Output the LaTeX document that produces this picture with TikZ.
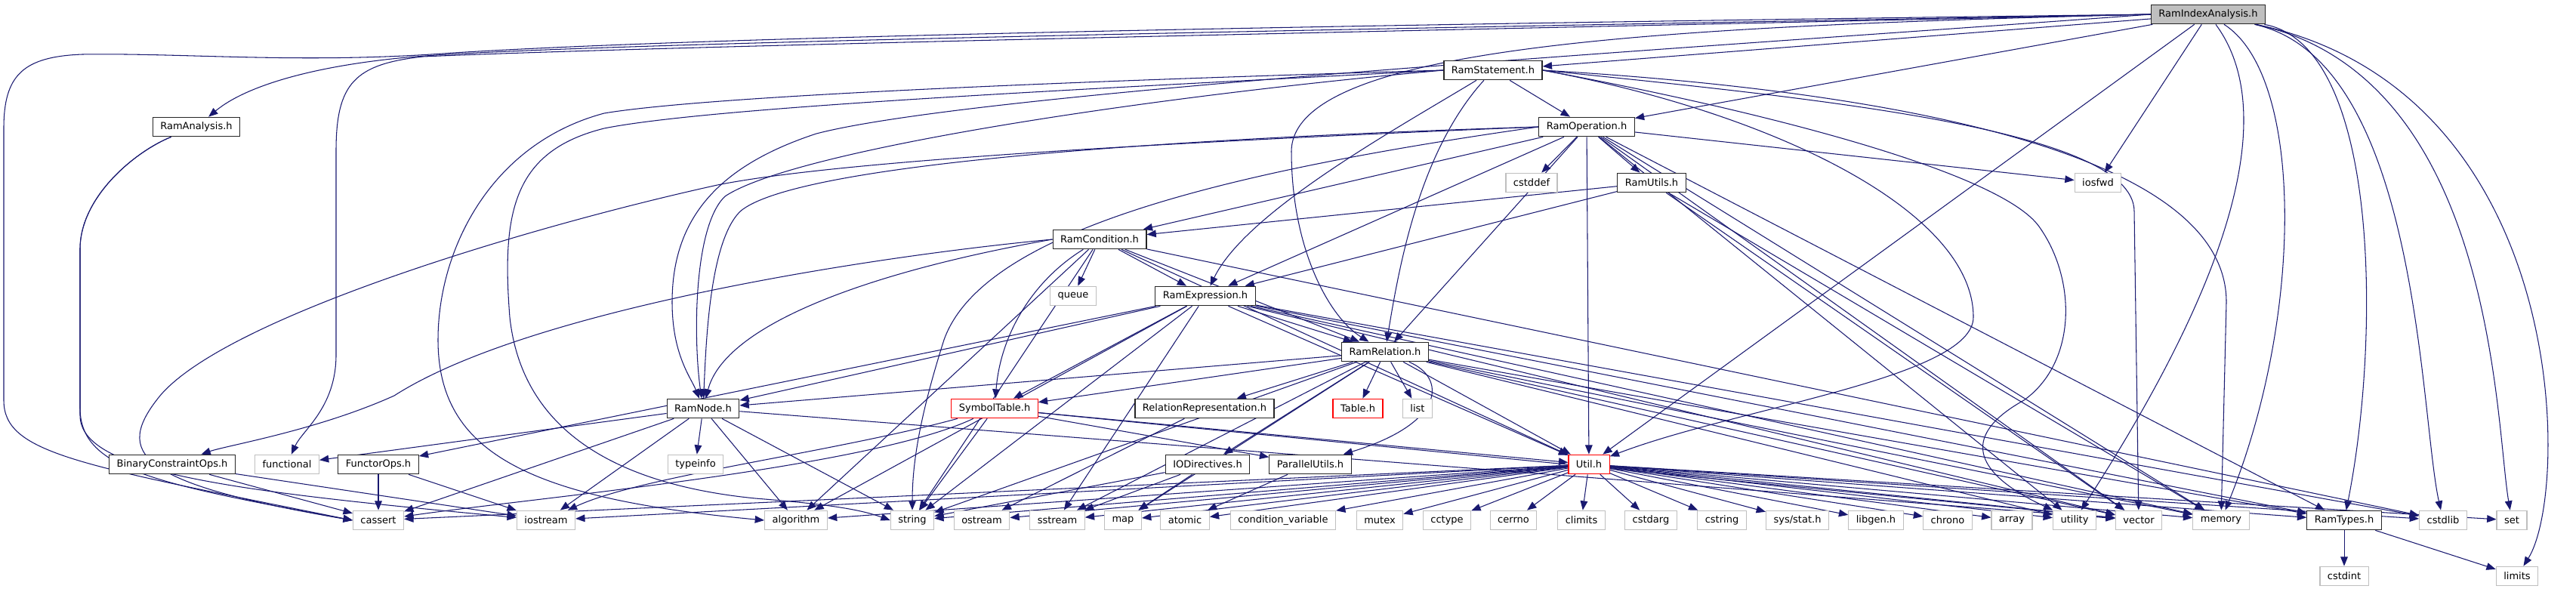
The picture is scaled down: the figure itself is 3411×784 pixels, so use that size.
\documentclass[tikz,border=0pt]{standalone}
\usepackage{fontspec}
\setmainfont{DejaVu Sans}
\usepackage{tikz}
\usetikzlibrary{arrows.meta,positioning,backgrounds}
\definecolor{edgeblue}{HTML}{191970}
\definecolor{sysgray}{HTML}{BFBFBF}

\begin{document}
\begin{tikzpicture}[x=0.02cm, y=-0.02cm, ->, >={Triangle[length=7pt,width=5.5pt]}, edgeblue, line width=0.6pt]

\tikzstyle{every node}=[rectangle,draw,fill=white,text=black,line width=0.7pt,minimum height=0.51cm,inner xsep=0.2cm,inner ysep=0pt,font=\fontsize{7.4}{9}\selectfont]
\tikzstyle{doc}=[draw=black!85]
\tikzstyle{sys}=[draw=sysgray]
\tikzstyle{trunc}=[draw=red]
\tikzstyle{root}=[draw=black!85,fill=sysgray]
\tikzstyle{inc}=[draw=edgeblue,line width=0.6pt]

\useasboundingbox (0,0) rectangle (3411,784);

\node[root] (idx) at (2924,19) {RamIndexAnalysis.h};
\node[doc] (stm) at (1977,93) {RamStatement.h};
\node[doc] (ana) at (260,168) {RamAnalysis.h};
\node[doc] (op) at (2101,168) {RamOperation.h};
\node[sys] (cstddef) at (2028,242) {cstddef};
\node[doc] (utl) at (2187,242) {RamUtils.h};
\node[sys] (iosfwd) at (2778,242) {iosfwd};
\node[doc] (cond) at (1456,317) {RamCondition.h};
\node[sys] (queue) at (1421,392) {queue};
\node[doc] (expr) at (1596,392) {RamExpression.h};
\node[doc] (rel) at (1834,466) {RamRelation.h};
\node[doc] (node) at (931,541) {RamNode.h};
\node[trunc] (sym) at (1317,541) {SymbolTable.h};
\node[doc] (rep) at (1595,541) {RelationRepresentation.h};
\node[trunc] (table) at (1798,541) {Table.h};
\node[sys] (list) at (1877,541) {list};
\node[doc] (bco) at (228,615) {BinaryConstraintOps.h};
\node[sys] (functional) at (380,615) {functional};
\node[doc] (fop) at (501,615) {FunctorOps.h};
\node[sys] (typeinfo) at (921,615) {typeinfo};
\node[doc] (iod) at (1599,615) {IODirectives.h};
\node[doc] (par) at (1735,615) {ParallelUtils.h};
\node[trunc] (util) at (2104,615) {Util.h};

\node[sys] (cassert) at (501,689) {cassert};
\node[sys] (iostream) at (723,689) {iostream};
\node[sys] (algorithm) at (1054,689) {algorithm};
\node[sys] (string) at (1208,689) {string};
\node[sys] (ostream) at (1300,689) {ostream};
\node[sys] (sstream) at (1400,689) {sstream};
\node[sys] (map) at (1487,689) {map};
\node[sys] (atomic) at (1569,689) {atomic};
\node[sys] (condvar) at (1699,689) {condition\_variable};
\node[sys] (mutex) at (1827,689) {mutex};
\node[sys] (cctype) at (1916,689) {cctype};
\node[sys] (cerrno) at (2004,689) {cerrno};
\node[sys] (climits) at (2094,689) {climits};
\node[sys] (cstdarg) at (2186,689) {cstdarg};
\node[sys] (cstring) at (2280,689) {cstring};
\node[sys] (sysstat) at (2380,689) {sys/stat.h};
\node[sys] (libgen) at (2484,689) {libgen.h};
\node[sys] (chrono) at (2579,689) {chrono};
\node[sys] (array) at (2664,689) {array};
\node[sys] (utility) at (2747,689) {utility};
\node[sys] (vector) at (2832,689) {vector};
\node[sys] (memory) at (2941,689) {memory};
\node[doc] (types) at (3104,689) {RamTypes.h};
\node[sys] (cstdlib) at (3235,689) {cstdlib};
\node[sys] (set) at (3326,689) {set};
\node[sys] (cstdint) at (3104,763) {cstdint};
\node[sys] (limits) at (3333,763) {limits};

\begin{pgfonlayer}{background}
\begin{scope}[edgeblue, every edge/.style={inc}]
% long edges round the left side
\draw[inc] (idx.west) .. controls (2000,30) and (1000,45) .. (600,70) .. controls (400,85) and (250,70) .. (109,72) .. controls (30,75) and (5,100) .. (5,170) -- (5,530) .. controls (5,600) and (100,615) .. (cassert.west);
\draw[inc] (idx.west) .. controls (2000,35) and (800,55) .. (550,75) .. controls (430,85) and (330,110) .. (ana);
\draw[inc] (idx.west) .. controls (2000,38) and (900,60) .. (560,75) .. controls (470,85) and (445,110) .. (445,200) -- (445,470) .. controls (445,540) and (400,570) .. (functional);
\draw[inc] (idx.west) .. controls (2300,60) and (1300,120) .. (1081,177) .. controls (950,220) and (890,290) .. (890,400) .. controls (890,470) and (915,500) .. (node);
\draw[inc] (idx.west) .. controls (2200,35) and (1712,60) .. (1710,200) .. controls (1710,330) and (1760,420) .. (rel);
\draw[inc] (ana) .. controls (180,200) and (106,260) .. (106,330) -- (106,540) .. controls (106,620) and (200,640) .. (cassert.west);
\draw[inc] (ana) .. controls (180,200) and (106,260) .. (106,330) -- (106,550) .. controls (106,625) and (300,650) .. (iostream);
\draw[inc] (op.west) .. controls (1500,190) and (1100,215) .. (950,245) .. controls (700,300) and (300,420) .. (212,524) .. controls (150,600) and (180,640) .. (cassert.west);
\draw[inc] (cond.west) .. controls (1150,340) and (700,410) .. (522,524) .. controls (420,570) and (300,590) .. (bco);
\draw[inc] (stm.west) .. controls (1500,105) and (950,125) .. (800,150) .. controls (650,190) and (580,330) .. (580,450) .. controls (580,600) and (700,660) .. (algorithm.west);
\draw[inc] (stm.west) .. controls (1500,115) and (950,140) .. (800,170) .. controls (680,200) and (664,280) .. (675,420) .. controls (690,560) and (800,640) .. (1000,660) .. controls (1100,668) and (1140,675) .. (string.west);
\draw[inc] (stm.west) .. controls (1500,130) and (1050,200) .. (960,260) .. controls (918,300) and (918,450) .. (node);
\draw[inc] (op.west) .. controls (1500,185) and (1050,220) .. (980,280) .. controls (940,320) and (935,450) .. (node);
\draw[inc] (op.west) .. controls (1600,230) and (1300,310) .. (1250,450) .. controls (1215,560) and (1208,620) .. (string);
\draw[inc] (cond.west) .. controls (1150,360) and (960,430) .. (node);
\draw[inc] (cond) .. controls (1370,370) and (1325,440) .. (sym);
\draw[inc] (sym) .. controls (1150,620) and (700,660) .. (cassert);
\draw[inc] (sym) .. controls (1100,600) and (850,630) .. (iostream);
\draw[inc] (rel) .. controls (1915,500) and (1915,560) .. (par);

% long edges round the right side
\draw[inc] (idx) .. controls (2999,120) and (2999,300) .. (utility);
\draw[inc] (idx) .. controls (3051,100) and (3051,420) .. (memory);
\draw[inc] (idx) .. controls (3152,60) and (3152,450) .. (types);
\draw[inc] (idx) .. controls (3204,80) and (3204,550) .. (cstdlib);
\draw[inc] (idx) .. controls (3304,100) and (3304,560) .. (set);
\draw[inc] (idx) .. controls (3404,120) and (3404,650) .. (limits);
\draw[inc] (stm.east) .. controls (2500,120) and (2948,200) .. (2948,400) -- (memory);
\draw[inc] (stm.east) .. controls (2400,130) and (2826,170) .. (2826,280) -- (vector);
\draw[inc] (stm.east) .. controls (2350,150) and (2650,230) .. (2700,300) .. controls (2750,370) and (2750,480) .. (2680,530) .. controls (2590,580) and (2620,630) .. (utility);
\draw[inc] (stm.east) .. controls (2350,150) and (2613,280) .. (2613,420) .. controls (2613,500) and (2300,540) .. (util);
\draw[inc] (stm) .. controls (1880,200) and (1853,350) .. (rel);
\draw[inc] (stm) .. controls (1850,170) and (1650,280) .. (expr);

\path
(idx) edge (stm)
(idx) edge (op)
(idx) edge (iosfwd)
(idx) edge (util)

(stm) edge (op)

(op) edge (cond)
(op) edge (expr)
(op) edge (rel)
(op) edge (utl)
(op) edge (cstddef)
(op) edge (iosfwd)
(op) edge (util)
(op) edge (vector)
(op) edge (memory)
(op) edge (types)
(op) edge (utility)

(utl) edge (cond)
(utl) edge (expr)
(utl) edge (vector)
(utl) edge (memory)

(cond) edge (queue)
(cond) edge (expr)
(cond) edge (rel)
(cond) edge (algorithm)
(cond) edge (string)
(cond) edge (util)
(cond) edge (cstdlib)

(expr) edge (rel)
(expr) edge (node)
(expr) edge (fop)
(expr) edge (sym)
(expr) edge (util)
(expr) edge (string)
(expr) edge (algorithm)
(expr) edge (sstream)
(expr) edge (cstdlib)
(expr) edge (memory)
(expr) edge (vector)
(expr) edge (types)

(rel) edge (node)
(rel) edge (sym)
(rel) edge (rep)
(rel) edge (table)
(rel) edge (list)
(rel) edge (iod)
(rel) edge (util)
(rel) edge (string)
(rel) edge (sstream)
(rel) edge (map)
(rel) edge (memory)
(rel) edge (vector)
(rel) edge (utility)
(rel) edge (types)

(node) edge (functional)
(node) edge (typeinfo)
(node) edge (cassert)
(node) edge (iostream)
(node) edge (string)
(node) edge (algorithm)
(node) edge (vector)

(sym) edge (par)
(sym) edge (util)
(sym) edge (string)
(sym) edge (vector)

(rep) edge (ostream)
(iod) edge (string)
(iod) edge (sstream)
(iod) edge (map)
(par) edge (atomic)

(util) edge (cassert)
(util) edge (iostream)
(util) edge (algorithm)
(util) edge (string)
(util) edge (ostream)
(util) edge (sstream)
(util) edge (map)
(util) edge (atomic)
(util) edge (condvar)
(util) edge (mutex)
(util) edge (cctype)
(util) edge (cerrno)
(util) edge (climits)
(util) edge (cstdarg)
(util) edge (cstring)
(util) edge (sysstat)
(util) edge (libgen)
(util) edge (chrono)
(util) edge (array)
(util) edge (utility)
(util) edge (vector)
(util) edge (memory)
(util) edge (types)
(util) edge (cstdlib)
(util) edge (set)

(fop) edge (cassert)
(fop) edge (iostream)
(bco) edge (cassert)
(bco) edge (iostream)
(types) edge (cstdint)
(types) edge (limits);
\end{scope}
\end{pgfonlayer}
\end{tikzpicture}
\end{document}
